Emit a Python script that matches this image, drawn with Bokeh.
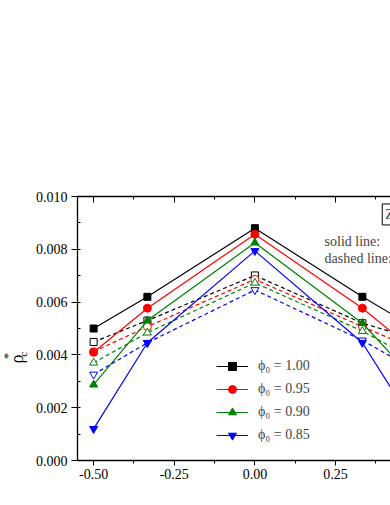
from math import pi
from bokeh.plotting import figure
from bokeh.layouts import row
from bokeh.models import (Range1d, LinearAxis, Label, Legend, LegendItem,
                          NumeralTickFormatter, FixedTicker)
from bokeh.embed import file_html
from bokeh.resources import INLINE

# ---- data ----
delta = [-0.5, -1/3, 0.0, 1/3, 0.5]
series_labels = ["ϕ₀ = 1.00", "ϕ₀ = 0.95", "ϕ₀ = 0.90", "ϕ₀ = 0.85"]
solid_100 = [0.0050, 0.0062, 0.0088, 0.0062, 0.0050]
solid_095 = [0.0041, 0.00577, 0.00857, 0.00577, 0.0041]
solid_090 = [0.00287, 0.0053, 0.00825, 0.0052, 0.0030]
solid_085 = [0.0012, 0.00446, 0.00794, 0.00446, 0.00125]
dashed_100 = [0.00449, 0.0053, 0.00701, 0.0052, 0.0046]
dashed_095 = [0.00412, 0.00507, 0.00686, 0.00507, 0.0042]
dashed_090 = [0.0037, 0.00484, 0.00673, 0.0049, 0.0038]
dashed_085 = [0.00326, 0.00446, 0.00646, 0.00455, 0.0034]
x_ticks = [-0.5, -0.25, 0.0, 0.25, 0.5]
y_ticks = [0.0, 0.002, 0.004, 0.006, 0.008, 0.010]

colors = ["#000000", "#FF0000", "#008000", "#0000FF"]
markers = ["square", "circle", "triangle", "inverted_triangle"]
sizes = [7, 8, 8, 8]
solids = [solid_100, solid_095, solid_090, solid_085]
dasheds = [dashed_100, dashed_095, dashed_090, dashed_085]

FONT = "Liberation Serif"
LEFT_W = 30

# narrow strip that carries the rotated y-axis title
ptitle = figure(width=LEFT_W, height=505, output_backend="svg", toolbar_location=None,
                x_range=Range1d(0, LEFT_W), y_range=Range1d(505, 0),
                x_axis_location=None, y_axis_location=None,
                min_border_left=0, min_border_right=0, min_border_top=0, min_border_bottom=0)
ptitle.outline_line_color = None
ptitle.xgrid.visible = False
ptitle.ygrid.visible = False
ptitle.add_layout(Label(x=16, y=311, text="ρ", text_font=FONT, text_font_size="18px",
                        text_color="black", angle=pi / 2, text_align="center",
                        text_baseline="middle"))
ptitle.add_layout(Label(x=7, y=305, text="*", text_font=FONT, text_font_size="13px",
                        text_color="black", angle=pi / 2, text_align="center",
                        text_baseline="middle"))
ptitle.add_layout(Label(x=22, y=302, text="c", text_font=FONT, text_font_size="11px",
                        text_color="black", angle=pi / 2, text_align="center",
                        text_baseline="middle"))

p = figure(width=390 - LEFT_W, height=505, output_backend="svg", toolbar_location=None,
           x_range=Range1d(-0.55, 0.4205), y_range=Range1d(0.0, 0.010),
           x_axis_location=None, y_axis_location=None,
           min_border_left=77 - LEFT_W, min_border_right=0, min_border_top=196,
           min_border_bottom=45)
p.frame_width = 313
p.frame_height = 264
p.outline_line_color = None
p.xgrid.visible = False
p.ygrid.visible = False
p.background_fill_color = "white"
p.border_fill_color = "white"

def style_axis(ax):
    ax.axis_line_color = "black"
    ax.axis_line_width = 1.3
    ax.major_tick_line_color = "black"
    ax.minor_tick_line_color = "black"
    ax.major_tick_line_width = 1
    ax.minor_tick_line_width = 1
    ax.major_label_text_font = FONT
    ax.major_label_text_font_size = "14px"
    ax.major_label_text_color = "black"

x_minor = [-0.5 + 0.125 * i for i in range(9)]
xb = LinearAxis(ticker=FixedTicker(ticks=x_ticks, minor_ticks=x_minor),
                formatter=NumeralTickFormatter(format="0.00"))
style_axis(xb)
xb.major_tick_out = 5
xb.major_tick_in = 0
xb.minor_tick_out = 3
xb.minor_tick_in = 0
xb.major_label_standoff = 3
p.add_layout(xb, "below")

xt = LinearAxis(ticker=FixedTicker(ticks=x_ticks, minor_ticks=x_minor),
                major_label_text_alpha=0)
style_axis(xt)
xt.major_tick_out = 0
xt.major_tick_in = 6
xt.minor_tick_out = 0
xt.minor_tick_in = 3
xt.major_label_text_font_size = "1px"
xt.major_label_standoff = 0
p.add_layout(xt, "above")

yl = LinearAxis(ticker=FixedTicker(ticks=y_ticks, minor_ticks=[0.001 * i for i in range(11)]),
                formatter=NumeralTickFormatter(format="0.000"))
style_axis(yl)
yl.major_tick_out = 6
yl.major_tick_in = 0
yl.minor_tick_out = 0
yl.minor_tick_in = 3
yl.major_label_standoff = 4
p.add_layout(yl, "left")

items = []
for lab, c, m, s, ys, yd in zip(series_labels, colors, markers, sizes, solids, dasheds):
    ld = p.line(delta, yd, line_color=c, line_width=1.2, line_dash="4 3")
    sd = p.scatter(delta, yd, marker=m, size=s, line_color=c, fill_color="white", line_width=1)
    l = p.line(delta, ys, line_color=c, line_width=1.2)
    sc = p.scatter(delta, ys, marker=m, size=s, line_color=c, fill_color=c)
    items.append(LegendItem(label=lab, renderers=[l, sc]))

legend = Legend(items=items, location=(139, 15), padding=0, margin=0,
                border_line_color=None, background_fill_alpha=0,
                glyph_width=32, glyph_height=20, label_height=20, spacing=3,
                label_standoff=10, label_text_font=FONT,
                label_text_font_size="14px", label_text_baseline="middle")
p.add_layout(legend, "center")

# x-axis title
p.add_layout(Label(x=0.0, y=-0.00123, text="δ", text_font=FONT, text_font_size="18px",
                   text_align="center", text_baseline="middle"))

# notes at top right
p.add_layout(Label(x=0.216, y=0.00828, text="solid line:", text_font=FONT,
                   text_font_size="14px", text_baseline="alphabetic"))
p.add_layout(Label(x=0.216, y=0.00767, text="dashed line:", text_font=FONT,
                   text_font_size="14px", text_baseline="alphabetic"))
p.add_layout(Label(x=0.395, y=0.00932, text="Z", text_font=FONT, text_font_size="14px",
                   text_baseline="middle", border_line_color="black", border_line_width=1,
                   padding=3, background_fill_color="white"))

layout = row(ptitle, p)
open("out.html", "w").write(file_html(layout, INLINE))
